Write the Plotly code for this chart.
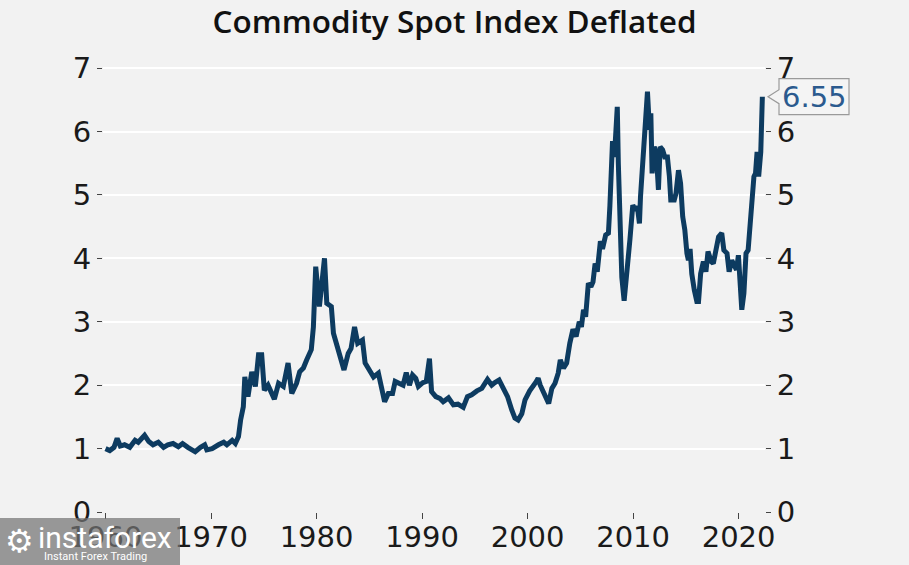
import plotly.graph_objects as go

# ---- data ----
years = [1960.0, 1960.4, 1960.8, 1961.1, 1961.4, 1961.8, 1962.3, 1962.8, 1963.1, 1963.7,
         1964.1, 1964.5, 1965.0, 1965.5, 1965.9, 1966.4, 1966.9, 1967.3, 1967.8, 1968.5,
         1969.0, 1969.4, 1969.6, 1970.1, 1970.7, 1971.2, 1971.5, 1972.0, 1972.3, 1972.6,
         1972.8, 1973.06, 1973.2, 1973.5, 1973.86, 1974.2, 1974.5, 1974.8, 1975.05, 1975.4,
         1976.0, 1976.4, 1976.85, 1977.3, 1977.65, 1978.1, 1978.4, 1978.75, 1979.07, 1979.5,
         1979.7, 1979.92, 1980.27, 1980.55, 1980.75, 1980.97, 1981.4, 1981.6, 1982.2, 1982.6,
         1983.0, 1983.27, 1983.6, 1983.9, 1984.35, 1984.6, 1985.0, 1985.4, 1985.86, 1986.2,
         1986.45, 1986.8, 1987.2, 1987.45, 1987.9, 1988.2, 1988.5, 1988.8, 1989.1, 1989.4,
         1989.65, 1990.07, 1990.4, 1990.7, 1990.9, 1991.3, 1991.7, 1992.0, 1992.5, 1992.97,
         1993.4, 1993.9, 1994.3, 1994.7, 1995.2, 1995.66, 1996.2, 1996.6, 1996.9, 1997.3,
         1997.7, 1998.1, 1998.5, 1998.8, 1999.1, 1999.45, 1999.76, 2000.2, 2000.8, 2001.0,
         2001.2, 2001.66, 2002.0, 2002.3, 2002.6, 2002.9, 2003.1, 2003.4, 2003.7, 2004.0,
         2004.3, 2004.6, 2004.9, 2005.1, 2005.3, 2005.5, 2005.76, 2006.0, 2006.2, 2006.4,
         2006.6, 2006.9, 2007.1, 2007.4, 2007.66, 2007.8, 2008.05, 2008.23, 2008.5, 2008.6,
         2008.77, 2008.93, 2009.15, 2009.3, 2009.46, 2009.7, 2009.97, 2010.2, 2010.4, 2010.6,
         2010.7, 2010.9, 2011.04, 2011.23, 2011.36, 2011.55, 2011.68, 2011.8, 2012.0, 2012.2,
         2012.4, 2012.56, 2012.8, 2013.0, 2013.25, 2013.44, 2013.57, 2013.9, 2014.07, 2014.3,
         2014.5, 2014.7, 2014.9, 2015.1, 2015.24, 2015.4, 2015.56, 2015.8, 2016.04, 2016.2,
         2016.4, 2016.66, 2016.9, 2017.1, 2017.4, 2017.6, 2017.9, 2018.1, 2018.4, 2018.6,
         2018.9, 2019.1, 2019.35, 2019.6, 2019.8, 2019.98, 2020.14, 2020.3, 2020.5, 2020.7,
         2020.9, 2021.1, 2021.3, 2021.45, 2021.6, 2021.75, 2021.9, 2022.1, 2022.25]
values = [1.00, 0.97, 1.02, 1.16, 1.04, 1.06, 1.02, 1.13, 1.10, 1.21,
          1.11, 1.06, 1.10, 1.02, 1.06, 1.08, 1.03, 1.08, 1.02, 0.95,
          1.02, 1.06, 0.98, 1.00, 1.06, 1.10, 1.06, 1.13, 1.08, 1.19,
          1.45, 1.66, 2.13, 1.82, 2.21, 1.98, 2.48, 2.48, 1.92, 2.00,
          1.78, 2.03, 1.98, 2.35, 1.87, 2.03, 2.21, 2.27, 2.40, 2.56,
          2.92, 3.87, 3.24, 3.82, 4.00, 3.29, 3.24, 2.82, 2.45, 2.24,
          2.50, 2.58, 2.92, 2.66, 2.71, 2.35, 2.24, 2.13, 2.19, 1.95,
          1.74, 1.87, 1.87, 2.06, 2.03, 2.00, 2.20, 2.00, 2.16, 2.11,
          1.98, 2.04, 2.06, 2.42, 1.90, 1.82, 1.79, 1.74, 1.80, 1.69,
          1.70, 1.65, 1.82, 1.85, 1.91, 1.95, 2.09, 2.00, 2.04, 2.08,
          1.95, 1.82, 1.61, 1.48, 1.45, 1.55, 1.77, 1.91, 2.05, 2.11,
          2.00, 1.82, 1.71, 1.95, 2.03, 2.19, 2.40, 2.27, 2.35, 2.66,
          2.88, 2.77, 3.00, 2.92, 3.19, 3.08, 3.61, 3.55, 3.63, 3.92,
          3.79, 4.27, 4.15, 4.37, 4.40, 4.83, 5.85, 5.60, 6.39, 5.50,
          4.45, 3.70, 3.33, 3.66, 4.03, 4.30, 4.84, 4.76, 4.82, 4.55,
          4.97, 5.50, 6.08, 6.29, 6.63, 6.03, 6.29, 5.34, 5.76, 5.66,
          5.08, 5.76, 5.71, 5.60, 5.60, 5.29, 4.92, 4.92, 5.03, 5.39,
          5.18, 4.66, 4.45, 4.08, 3.97, 4.15, 3.76, 3.50, 3.32, 3.32,
          3.76, 3.95, 3.79, 4.11, 3.95, 3.92, 4.13, 4.34, 4.40, 4.13,
          4.08, 3.79, 3.97, 3.87, 3.82, 4.05, 3.55, 3.19, 3.45, 4.08,
          4.13, 4.61, 4.92, 5.29, 5.34, 5.68, 5.29, 5.68, 6.55]
x_ticks = [1960, 1970, 1980, 1990, 2000, 2010, 2020]
y_ticks = [0, 1, 2, 3, 4, 5, 6, 7]
title_text = "Commodity Spot Index Deflated"

BG = "#f2f2f2"
LINE = "#0d3b60"
TICKFONT = dict(family="DejaVu Sans", size=29, color="#1a1a1a")

fig = go.Figure()
fig.add_trace(go.Scatter(x=years, y=values, mode="lines",
                         line=dict(color=LINE, width=5), hoverinfo="skip",
                         showlegend=False))
# invisible trace for right axis
fig.add_trace(go.Scatter(x=[years[-1]], y=[values[-1]], yaxis="y2", mode="markers",
                         marker=dict(opacity=0), showlegend=False, hoverinfo="skip"))

last_val = values[-1]

fig.update_layout(
    width=909, height=565,
    paper_bgcolor=BG, plot_bgcolor=BG,
    margin=dict(l=103, r=144, t=65, b=53, autoexpand=False),
    title=dict(text=title_text, x=0.5, xanchor="center", y=1 - 22 / 565, yanchor="middle",
               font=dict(family="Open Sans", size=31.5, color="#111", weight=600)),
    xaxis=dict(range=[1959.76, 2022.5], tickvals=x_ticks, ticktext=[str(t) for t in x_ticks],
               showgrid=False, zeroline=False, showline=False, automargin=False,
               ticks="outside", ticklen=6, tickwidth=1, tickcolor="#444",
               ticklabelstandoff=-7, tickfont=TICKFONT),
    yaxis=dict(range=[0, 7.05], tickvals=y_ticks, showgrid=True, gridcolor="#ffffff",
               gridwidth=1.5, zeroline=False, showline=False, automargin=False,
               ticks="outside", ticklen=5, tickwidth=1, tickcolor="#444",
               tickfont=TICKFONT),
    yaxis2=dict(range=[0, 7.05], tickvals=y_ticks, overlaying="y", side="right",
                showgrid=False, zeroline=False, showline=False, automargin=False,
                ticks="outside", ticklen=5, tickwidth=1, tickcolor="#444",
                tickfont=TICKFONT),
)

# callout box for the last value
fig.add_shape(type="path", xref="paper", yref="y", xsizemode="pixel", ysizemode="pixel",
              xanchor=1, yanchor=last_val,
              path="M 3,0 L 14,7 L 14,18 L 84,18 L 84,-18 L 14,-18 L 14,-7 Z",
              fillcolor="#f4f4f4", line=dict(color="#9a9a9a", width=1.2), layer="above")
fig.add_annotation(xref="paper", yref="y", x=1, y=last_val, xanchor="left", yanchor="middle",
                   xshift=15, text=f"{last_val:.2f}", showarrow=False,
                   font=dict(family="DejaVu Sans", size=29, color="#2b5a8e"))

# watermark logo
plot_w = 909 - 103 - 144
plot_h = 565 - 65 - 53
def px_x(p):
    return (p - 103) / plot_w
def px_y(p):
    return (565 - 53 - p) / plot_h
fig.add_shape(type="rect", xref="paper", yref="paper",
              x0=px_x(0), x1=px_x(180), y0=px_y(565), y1=px_y(518),
              fillcolor="rgba(115,115,115,0.72)", line=dict(width=0), layer="above")
fig.add_annotation(xref="paper", yref="paper", x=px_x(3), y=px_y(541), xanchor="left",
                   yanchor="middle", text="⚙", showarrow=False,
                   font=dict(family="DejaVu Sans", size=32, color="#ffffff"))
fig.add_annotation(xref="paper", yref="paper", x=px_x(36), y=px_y(537), xanchor="left",
                   yanchor="middle", text="instaforex", showarrow=False,
                   font=dict(family="Roboto", size=30, color="#ffffff"))
fig.add_annotation(xref="paper", yref="paper", x=px_x(42), y=px_y(556), xanchor="left",
                   yanchor="middle", text="Instant Forex Trading", showarrow=False,
                   font=dict(family="Roboto", size=11, color="#ffffff"))

fig.write_html("out.html", post_script="document.body.style.margin='0';",
               config={"displayModeBar": False})
